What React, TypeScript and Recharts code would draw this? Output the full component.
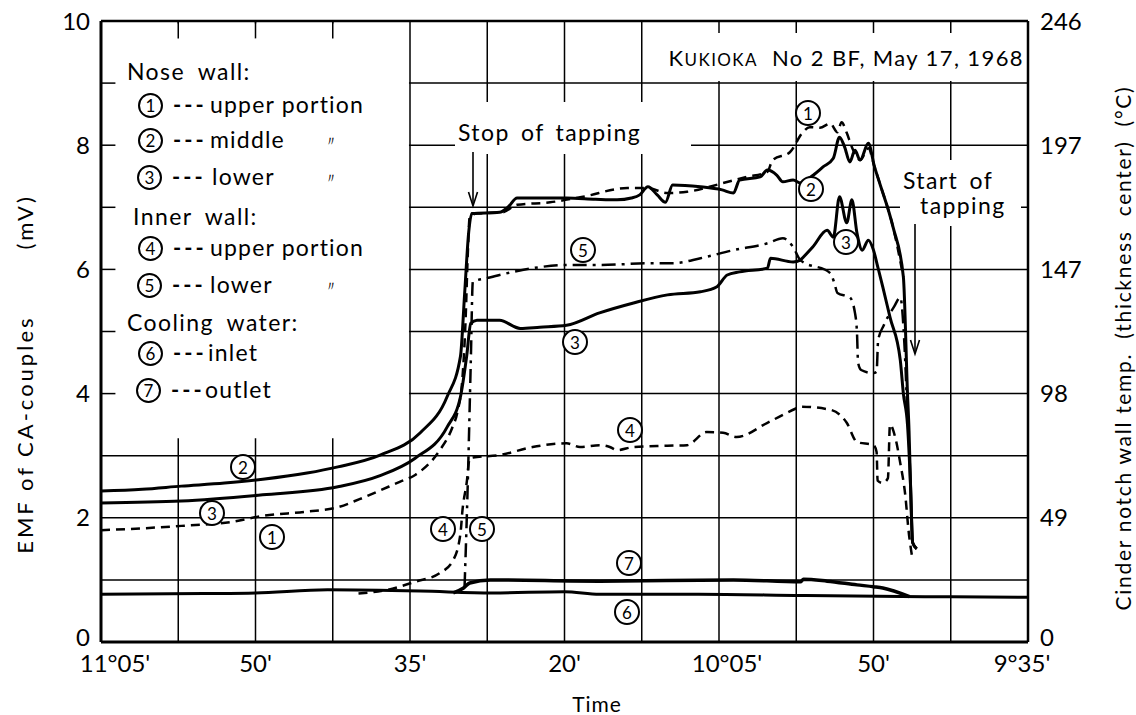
import React from 'react';
import {
  LineChart, Line, XAxis, YAxis, CartesianGrid, ReferenceArea, ReferenceLine,
} from 'recharts';

// time axis: minutes after 11°05' (the chart runs backwards in clock time)
const X_TICKS = [0, 7.5, 15, 22.5, 30, 37.5, 45, 52.5, 60, 67.5, 75, 82.5, 90];
const X_LABELS: Record<number, string> = {
  0: "11°05'", 15: "50'", 30: "35'", 45: "20'", 60: "10°05'", 75: "50'", 90: "9°35'",
};
const Y_TICKS = [0, 1, 2, 3, 4, 5, 6, 7, 8, 9, 10];
const RIGHT_TICKS = [0, 2, 4, 6, 8, 10];
const RIGHT_LABELS = ['0', '49', '98', '147', '197', '246'];

// [minute, mV]
const NOSE_UPPER: [number, number][] = [
  [0, 1.8], [4, 1.83], [7.8, 1.87], [12.5, 1.93], [15.7, 2.03], [20, 2.1], [23, 2.17],
  [25.1, 2.3], [29, 2.58], [30.5, 2.69], [32.9, 3.09], [34.1, 3.45], [34.6, 3.7],
  [35.1, 4.27], [35.4, 5.2], [35.6, 6.2], [35.8, 6.85], [36.5, 6.9], [39, 6.92],
  [40.4, 7.04], [43.6, 7.08], [46.8, 7.17], [51.1, 7.31], [53, 7.31], [55, 7.23],
  [56.9, 7.25], [60.4, 7.39], [62.7, 7.49], [64.7, 7.57], [65.2, 7.76], [66.9, 7.89],
  [68.1, 8.2], [68.8, 8.29], [69.8, 8.28], [70.8, 8.35], [71.5, 8.21], [71.9, 8.37],
  [72.4, 8.2], [72.9, 7.97], [73.7, 7.76], [74.5, 7.95], [75.1, 7.65], [75.6, 7.39],
  [76.9, 6.68], [77.9, 5.88],
];
const NOSE_MIDDLE: [number, number][] = [
  [0, 2.43], [4, 2.46], [7.8, 2.51], [12, 2.56], [15.7, 2.62], [20, 2.72], [23, 2.82],
  [27.1, 3.01], [31, 3.37], [33.6, 3.95], [34.9, 4.6], [35.3, 5.6], [35.7, 6.6],
  [36, 6.9], [38.7, 6.92], [39.5, 7.0], [40.4, 7.15], [45.2, 7.15], [48, 7.13],
  [50.1, 7.12], [51.5, 7.15], [52.3, 7.2], [53.1, 7.33], [54, 7.2], [54.8, 7.08],
  [55.5, 7.36], [58.2, 7.33], [60.3, 7.28], [61.4, 7.23], [62, 7.44], [64, 7.49],
  [64.7, 7.6], [65.6, 7.52], [66.2, 7.41], [67.2, 7.44], [67.9, 7.39], [69, 7.5],
  [70.1, 7.65], [71.1, 7.79], [71.7, 8.13], [72.2, 7.97], [72.7, 7.73], [73.2, 7.92],
  [73.7, 7.76], [74.5, 8.03], [75.1, 7.65], [75.6, 7.39], [76.9, 6.68], [77.9, 5.88],
  [78.3, 4.0], [78.45, 3.4], [78.6, 2.5], [78.8, 1.6], [79.2, 1.5],
];
const NOSE_LOWER: [number, number][] = [
  [0, 2.24], [7.8, 2.27], [15.7, 2.37], [23, 2.5], [27.1, 2.68], [30.5, 2.96],
  [33.6, 3.46], [34.9, 3.95], [35.5, 4.6], [35.9, 5.13], [36.5, 5.18], [38.7, 5.18],
  [40.7, 5.05], [42.6, 5.07], [45.2, 5.1], [48.4, 5.3], [51.7, 5.46], [55, 5.59],
  [58.2, 5.64], [59.8, 5.72], [60.8, 5.91], [62, 5.96], [64.7, 6.02], [65, 6.18],
  [67.2, 6.12], [67.9, 6.15], [68.2, 6.2], [69.1, 6.36], [70.5, 6.63], [71.1, 6.52],
  [71.7, 7.17], [72.4, 6.75], [72.9, 7.12], [73.4, 6.58], [73.9, 6.31], [74.5, 6.47],
  [75, 6.31], [75.4, 6.05], [75.9, 5.72], [76.6, 5.23], [77.6, 4.54], [77.9, 4.0],
  [78.3, 3.5], [78.6, 2.5], [78.8, 1.6], [79.2, 1.5],
];
const INNER_UPPER: [number, number][] = [
  [25, 0.78], [27.8, 0.84], [30.5, 0.97], [32.9, 1.11], [34.2, 1.32], [34.9, 1.75],
  [35.1, 2.13], [35.5, 2.56], [35.8, 2.96], [36.1, 2.97], [38.7, 3.01], [41.9, 3.14],
  [45.2, 3.2], [46.5, 3.14], [48.4, 3.17], [49.4, 3.14], [50.1, 3.09], [51.7, 3.14],
  [55, 3.16], [56.9, 3.17], [58.8, 3.38], [60.4, 3.37], [61.7, 3.3], [64.7, 3.53],
  [67.6, 3.77], [67.9, 3.79], [70.8, 3.74], [72.4, 3.53], [73.4, 3.22], [75, 3.17],
  [75.3, 3.06], [75.4, 2.6], [75.9, 2.56], [76.4, 2.64], [76.6, 3.5], [77.1, 3.3],
  [77.6, 2.88], [78.1, 2.34], [78.4, 1.8], [78.8, 1.32],
];
const INNER_LOWER: [number, number][] = [
  [35.3, 0.9], [35.6, 2.5], [35.9, 4.5], [36.1, 5.8], [37.5, 5.86], [38.7, 5.91],
  [41.9, 6.02], [45.2, 6.07], [48.4, 6.07], [53.3, 6.1], [55.5, 6.1], [58.2, 6.18],
  [61.4, 6.31], [64.7, 6.42], [66.2, 6.5], [67.2, 6.36], [67.9, 6.15], [70.8, 5.94],
  [71.2, 5.78], [71.5, 5.62], [72.7, 5.55], [73.2, 5.3], [73.4, 4.97], [73.5, 4.5],
  [73.8, 4.38], [75, 4.33], [75.3, 4.35], [75.45, 4.86], [76, 5.1], [77, 5.4],
  [77.6, 5.55], [78, 4.8], [78.3, 3.6],
];
const WATER_INLET: [number, number][] = [
  [0, 0.77], [10, 0.78], [15, 0.79], [22, 0.84], [31, 0.82], [38, 0.79], [45, 0.81],
  [48.4, 0.77], [58, 0.77], [68, 0.75], [80, 0.73], [90, 0.72],
];
const WATER_OUTLET: [number, number][] = [
  [34.2, 0.79], [35.2, 0.87], [35.8, 0.95], [37.8, 1.0], [48.4, 0.98], [61.4, 1.0],
  [67.9, 0.97], [68.2, 1.01], [70.5, 0.98], [73.4, 0.92], [75, 0.89], [75.9, 0.87],
  [78.5, 0.73],
];

const FONT = 'Lato, "DejaVu Sans", sans-serif';
const pts = (arr: [number, number][]) => arr.map(([t, v]) => ({ t, v }));

// small nudges so the degree labels sit like the printed ones
const X_NUDGE: Record<number, number> = { 0: 14, 60: 8, 90: -6 };

const XTick = (props: any) => {
  const { x, y, payload } = props;
  const label = X_LABELS[payload.value];
  if (!label) return null;
  return (
    <text x={x + (X_NUDGE[payload.value] ?? 0)} y={y} dy="0.75em" textAnchor="middle"
      fill="#000" fontSize={24} fontFamily={FONT}>{label}</text>
  );
};

const LeftTick = (props: any) => {
  const { x, y, payload } = props;
  const v = payload.value;
  if (v % 2 !== 0) return null;
  return (
    <text x={x} y={y - (v === 0 ? 5 : 0)} dy="0.355em" textAnchor="end"
      fill="#000" fontSize={24} fontFamily={FONT}>{String(v)}</text>
  );
};

const RightTick = (props: any) => {
  const { x, y, payload } = props;
  const v = payload.value;
  const label = RIGHT_LABELS[RIGHT_TICKS.indexOf(v)];
  if (label === undefined) return null;
  return (
    <text x={x} y={y - (v === 0 ? 5 : 0)} dy="0.355em" textAnchor="start"
      fill="#000" fontSize={24} fontFamily={FONT}>{label}</text>
  );
};

const Num = ({ n, size = 25, fs = 17 }: { n: string; size?: number; fs?: number }) => (
  <span style={{
    display: 'inline-flex', alignItems: 'center', justifyContent: 'center',
    width: size, height: size, border: '2px solid #000', borderRadius: '50%',
    boxSizing: 'border-box', fontSize: fs, lineHeight: 1, background: '#fff',
    fontFamily: FONT, color: '#000',
  }}>{n}</span>
);

// circled label sitting on the plot
const Tag = ({ n, x, y }: { n: string; x: number; y: number }) => (
  <div style={{ position: 'absolute', left: x - 13, top: y - 13 }}>
    <Num n={n} size={26} />
  </div>
);

const Row = ({ n, cy, cx, text, tx, ditto }:
  { n: string; cy: number; cx: number; text: string; tx: number; ditto?: string }) => (
  <>
    <div style={{ position: 'absolute', left: cx, top: cy - 12.5 }}><Num n={n} /></div>
    <div style={{ position: 'absolute', left: cx + 35, top: cy - 14, fontSize: 22, letterSpacing: 3, fontWeight: 700 }}>---</div>
    <div style={{ position: 'absolute', left: tx, top: cy - 15, fontSize: 23, letterSpacing: 1.2 }}>{text}</div>
    {ditto && <div style={{ position: 'absolute', left: 324, top: cy - 8, fontSize: 14 }}>{ditto}</div>}
  </>
);

const Head = ({ x, cy, text }: { x: number; cy: number; text: string }) => (
  <div style={{ position: 'absolute', left: x, top: cy - 15, fontSize: 23, letterSpacing: 1.4, wordSpacing: 6 }}>{text}</div>
);

export default function App() {
  const series = [
    { d: NOSE_UPPER, w: 2.5, dash: '9 6' },
    { d: INNER_UPPER, w: 2.5, dash: '9 6' },
    { d: INNER_LOWER, w: 2.5, dash: '14 6 3 6' },
    { d: WATER_OUTLET, w: 3.5, dash: undefined },
    { d: NOSE_LOWER, w: 3, dash: undefined },
    { d: NOSE_MIDDLE, w: 3, dash: undefined },
  ];
  return (
    <div style={{
      position: 'absolute', left: 0, top: 0, width: 1136, height: 715,
      background: '#fff', fontFamily: FONT, color: '#000', overflow: 'hidden',
    }}>
      <LineChart width={1136} height={715} margin={{ top: 21, right: 48, bottom: 33, left: 41 }}>
        <CartesianGrid stroke="#000" strokeWidth={1.5} />
        <XAxis
          dataKey="t" type="number" domain={[0, 90]} ticks={X_TICKS} interval={0}
          tick={<XTick />}
          tickLine={false} tickSize={6} tickMargin={6} height={40}
          axisLine={{ stroke: '#000', strokeWidth: 3 }} allowDataOverflow
        />
        <YAxis
          type="number" domain={[0, 10]} ticks={Y_TICKS} interval={0}
          tick={<LeftTick />}
          tickLine={false} tickSize={6} tickMargin={5} width={60}
          axisLine={{ stroke: '#000', strokeWidth: 3 }}
        />
        <YAxis
          yAxisId="right" orientation="right" type="number" domain={[0, 10]}
          ticks={RIGHT_TICKS} interval={0}
          tick={<RightTick />}
          tickLine={false} tickSize={6} tickMargin={6} width={60}
          axisLine={{ stroke: '#000', strokeWidth: 2.5 }}
        />
        {/* blank block behind the key */}
        <ReferenceArea x1={0.1} x2={29.9} y1={3.28} y2={9.96} fill="#fff" fillOpacity={1} stroke="none" />
        <ReferenceLine y={10} stroke="#000" strokeWidth={2.5} />
        {[4, 5, 6, 7, 8, 9].map((y) => (
          <ReferenceLine key={'yt' + y} segment={[{ x: 0, y }, { x: 1.4, y }]} stroke="#000" strokeWidth={1.5} />
        ))}
        {[7.5, 15, 22.5].map((x) => (
          <ReferenceLine key={'xt' + x} segment={[{ x, y: 10 }, { x, y: 9.72 }]} stroke="#000" strokeWidth={1.5} />
        ))}
        {/* inlet drawn against the right (°C) scale, which shares the 0–10 range */}
        <Line
          yAxisId="right" data={pts(WATER_INLET)} dataKey="v" type="monotone" stroke="#000"
          strokeWidth={3} dot={false} activeDot={false} isAnimationActive={false}
        />
        {series.map((s, i) => (
          <Line
            key={i} data={pts(s.d)} dataKey="v" type="monotone" stroke="#000"
            strokeWidth={s.w} strokeDasharray={s.dash} dot={false} activeDot={false}
            isAnimationActive={false}
          />
        ))}
      </LineChart>

      {/* key */}
      <Head x={127} cy={72} text="Nose wall:" />
      <Row n="1" cy={105} cx={138} text="upper portion" tx={210} />
      <Row n="2" cy={140} cx={138} text="middle" tx={210} ditto="〃" />
      <Row n="3" cy={177} cx={137} text="lower" tx={212} ditto="〃" />
      <Head x={133} cy={217} text="Inner wall:" />
      <Row n="4" cy={248} cx={138} text="upper portion" tx={210} />
      <Row n="5" cy={285} cx={137} text="lower" tx={210} ditto="〃" />
      <Head x={127} cy={323} text="Cooling water:" />
      <Row n="6" cy={353} cx={138} text="inlet" tx={208} />
      <Row n="7" cy={390} cx={136} text="outlet" tx={205} />

      {/* title */}
      <div style={{
        position: 'absolute', left: 656, top: 33, width: 368, height: 48, background: '#fff',
        display: 'flex', alignItems: 'center', justifyContent: 'flex-end', fontSize: 22, letterSpacing: 1.4,
      }}>
        <span>K<span style={{ fontSize: 17 }}>UKIOKA</span>&nbsp; No 2 BF, May 17, 1968</span>
      </div>

      {/* annotations */}
      <div style={{ position: 'absolute', left: 455, top: 102, width: 236, height: 52, background: '#fff' }} />
      <div style={{ position: 'absolute', left: 458, top: 118, fontSize: 23, letterSpacing: 1.4, wordSpacing: 4 }}>Stop of tapping</div>
      <div style={{ position: 'absolute', left: 900, top: 160, width: 121, height: 66, background: '#fff' }} />
      <div style={{ position: 'absolute', left: 903, top: 169, fontSize: 23, lineHeight: '23px', letterSpacing: 1.4, wordSpacing: 4 }}>Start of</div>
      <div style={{ position: 'absolute', left: 920, top: 194, fontSize: 23, lineHeight: '23px', letterSpacing: 1.4 }}>tapping</div>
      <svg width={1136} height={715} style={{ position: 'absolute', left: 0, top: 0, pointerEvents: 'none' }}>
        <line x1={473} y1={152} x2={473} y2={205} stroke="#000" strokeWidth={1.6} />
        <polyline points="468.5,192 473,206 477.5,192" fill="none" stroke="#000" strokeWidth={1.6} />
        <line x1={915} y1={224} x2={915} y2={353} stroke="#000" strokeWidth={1.6} />
        <polyline points="910.5,340 915,354 919.5,340" fill="none" stroke="#000" strokeWidth={1.6} />
      </svg>

      <Tag n="2" x={243} y={467} />
      <Tag n="3" x={212} y={513} />
      <Tag n="1" x={272} y={537} />
      <Tag n="4" x={443} y={529} />
      <Tag n="5" x={482} y={529} />
      <Tag n="5" x={583} y={250} />
      <Tag n="3" x={575} y={342} />
      <Tag n="4" x={630} y={430} />
      <Tag n="7" x={629} y={563} />
      <Tag n="6" x={627} y={612} />
      <Tag n="1" x={808} y={113} />
      <Tag n="2" x={811} y={189} />
      <Tag n="3" x={846} y={242} />

      {/* axis titles */}
      <div style={{
        position: 'absolute', left: 24, top: 374, transform: 'translate(-50%,-50%) rotate(-90deg)',
        whiteSpace: 'nowrap', fontSize: 22, letterSpacing: 3,
      }}>
        EMF of CA-couples<span style={{ marginLeft: 66 }}>(mV)</span>
      </div>
      <div style={{
        position: 'absolute', left: 1122, top: 348, transform: 'translate(-50%,-50%) rotate(-90deg)',
        whiteSpace: 'nowrap', fontSize: 21, letterSpacing: 1.7,
      }}>
        Cinder notch wall temp.&nbsp; (thickness&nbsp; center)&nbsp; (°C)
      </div>
      <div style={{ position: 'absolute', left: 597, top: 703, transform: 'translate(-50%,-50%)', fontSize: 21, letterSpacing: 1 }}>
        Time
      </div>
    </div>
  );
}
